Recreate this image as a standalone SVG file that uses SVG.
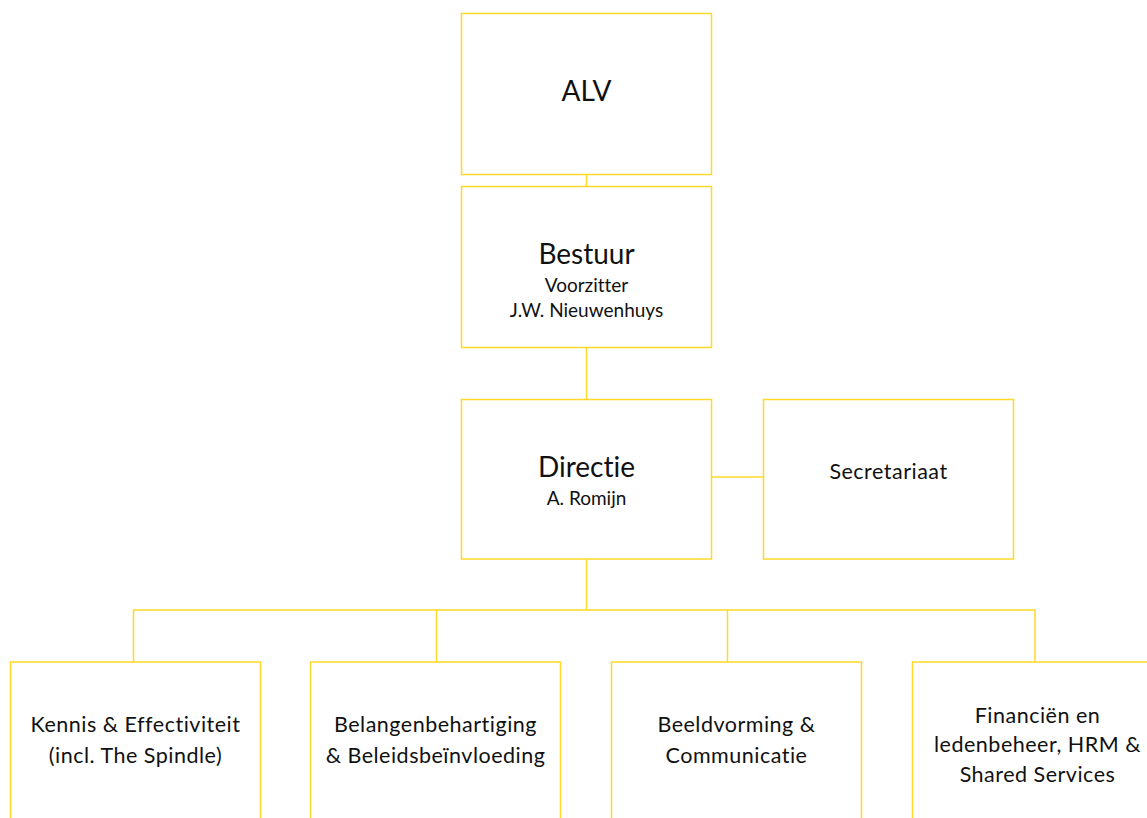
<svg xmlns="http://www.w3.org/2000/svg" width="1147" height="818" viewBox="0 0 1147 818">
<style>
.box{fill:#fff;stroke:#FFD829;stroke-width:1.5}
.ln{fill:none;stroke:#FFD829;stroke-width:1.5}
text{font-family:Lato,"Noto Sans",sans-serif;fill:#111;text-anchor:middle;font-variant-ligatures:none}
.big{font-size:28px}
.mid{font-size:21.5px;letter-spacing:0.5px}
.sm{font-size:19px}
</style>
<rect width="1147" height="818" fill="#fff"/>
<g id="connectors">
<line class="ln" x1="586.5" y1="174.5" x2="586.5" y2="186.5"/>
<line class="ln" x1="586.5" y1="347.5" x2="586.5" y2="399.5"/>
<line class="ln" x1="711.5" y1="477" x2="763.5" y2="477"/>
<line class="ln" x1="586.5" y1="559" x2="586.5" y2="610"/>
<polyline class="ln" points="133.5,662 133.5,610 1035,610 1035,662"/>
<line class="ln" x1="436.5" y1="610" x2="436.5" y2="662"/>
<line class="ln" x1="727.5" y1="610" x2="727.5" y2="662"/>
</g>
<g id="alv"><rect class="box" x="461.5" y="13.5" width="250" height="161"/><text class="big" x="586.5" y="101">ALV</text></g>
<g id="bestuur"><rect class="box" x="461.5" y="186.5" width="250" height="161"/><text class="big" x="586.5" y="264">Bestuur</text><text class="sm" x="586.5" y="292">Voorzitter</text><text class="sm" x="586.5" y="317">J.W. Nieuwenhuys</text></g>
<g id="directie"><rect class="box" x="461.5" y="399.5" width="250" height="159.5"/><text class="big" x="586.5" y="477">Directie</text><text class="sm" x="586.5" y="505">A. Romijn</text></g>
<g id="secretariaat"><rect class="box" x="763.5" y="399.5" width="250" height="159.5"/><text class="mid" x="888.5" y="479">Secretariaat</text></g>
<g id="kennis"><rect class="box" x="10.5" y="662" width="250" height="170"/><text class="mid" x="135.5" y="732">Kennis &amp; Effectiviteit</text><text class="mid" x="135.5" y="762.5">(incl. The Spindle)</text></g>
<g id="belangen"><rect class="box" x="310.5" y="662" width="250" height="170"/><text class="mid" x="435.5" y="732">Belangenbehartiging</text><text class="mid" x="435.5" y="762.5">&amp; Beleidsbeïnvloeding</text></g>
<g id="beeldvorming"><rect class="box" x="611.5" y="662" width="250" height="170"/><text class="mid" x="736.5" y="732">Beeldvorming &amp;</text><text class="mid" x="736.5" y="762.5">Communicatie</text></g>
<g id="financien"><rect class="box" x="912.5" y="662" width="250" height="170"/><text class="mid" x="1037.5" y="722.5">Financiën en</text><text class="mid" x="1037.5" y="752">ledenbeheer, HRM &amp;</text><text class="mid" x="1037.5" y="781.5">Shared Services</text></g>
</svg>
